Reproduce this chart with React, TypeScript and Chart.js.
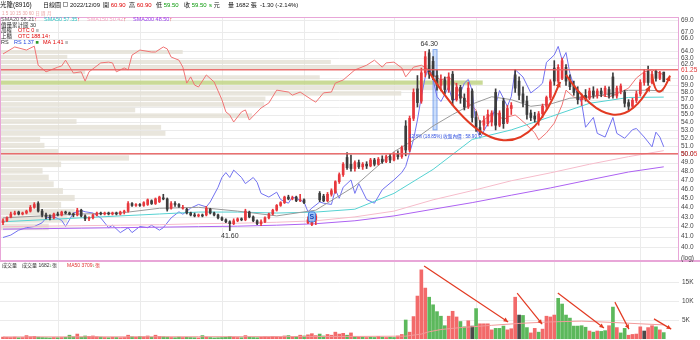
import React, { useEffect, useRef } from 'react';
import { Chart, registerables } from 'chart.js';
Chart.register(...registerables);

const FONT = '"Liberation Sans", "Noto Sans CJK TC", sans-serif';

// ---------- daily candles (index 0 .. 169) ----------
const opens = [
  42.4, 42.6, 43.0, 43.3, 43.5, 43.3, 43.4, 43.6, 44.0, 44.4,
  43.6, 43.2, 43.0, 42.9, 43.3, 43.2, 43.5, 43.4, 43.3, 43.2,
  43.7, 43.1, 42.8, 42.9, 43.2, 43.4, 43.3, 43.4, 43.3, 43.4,
  43.3, 43.5, 43.6, 44.4, 44.2, 44.3, 44.2, 44.3, 44.7, 44.4,
  44.6, 45.0, 44.9, 43.9, 44.4, 44.3, 43.9, 43.8, 43.4, 43.2,
  43.1, 43.2, 43.2, 43.8, 43.4, 43.2, 42.9, 42.7, 42.5, 42.3,
  42.6, 42.8, 42.7, 43.5, 43.0, 42.6, 42.3, 42.5, 42.9, 43.3,
  43.7, 44.2, 44.5, 45.1, 44.9, 45.1, 44.7, 44.8, 42.4, 42.2,
  42.7, 45.5, 45.2, 44.7, 45.4, 45.6, 46.8, 47.6, 49.6, 48.8,
  48.3, 49.0, 48.5, 48.8, 48.6, 49.3, 48.8, 49.4, 49.1, 49.7,
  49.3, 50.0, 49.7, 53.5, 50.5, 54.5, 58.5, 56.8, 60.8, 63.8,
  62.5, 60.4, 59.0, 59.8, 58.4, 60.6, 57.0, 58.7, 57.2, 56.0,
  58.2, 54.6, 53.3, 53.6, 53.8, 54.0, 58.0, 53.6, 56.8, 54.0,
  55.8, 60.5, 59.6, 57.8, 56.8, 55.2, 54.8, 54.2, 55.1, 56.1,
  57.3, 61.5, 59.6, 60.0, 61.6, 59.8, 59.0, 58.2, 57.0, 57.6,
  57.2, 58.2, 57.6, 58.2, 57.8, 58.4, 60.2, 57.5, 58.2, 58.0,
  56.6, 56.1, 56.9, 57.8, 59.4, 61.0, 59.4, 61.0, 60.0, 60.9,
];
const highs = [
  42.8, 43.0, 43.5, 43.6, 43.6, 43.5, 43.7, 44.2, 44.5, 44.6,
  43.8, 43.4, 43.2, 43.4, 43.5, 43.6, 43.6, 43.5, 43.4, 43.9,
  43.8, 43.2, 43.0, 43.3, 43.5, 43.5, 43.5, 43.5, 43.5, 43.5,
  43.6, 43.7, 44.6, 44.5, 44.4, 44.4, 44.6, 44.9, 44.8, 45.0,
  45.2, 45.4, 45.0, 44.6, 44.6, 44.4, 44.2, 43.9, 43.5, 43.4,
  43.3, 43.3, 44.1, 43.9, 43.5, 43.3, 43.0, 42.8, 42.6, 42.8,
  42.9, 42.9, 43.8, 43.6, 43.1, 42.7, 42.7, 43.0, 43.4, 43.8,
  44.3, 44.6, 45.2, 45.3, 45.2, 45.2, 45.4, 44.9, 43.0, 43.0,
  43.3, 45.7, 45.4, 45.6, 46.0, 46.9, 47.8, 49.0, 50.2, 49.9,
  49.2, 49.3, 49.0, 49.1, 49.5, 49.5, 49.6, 49.8, 49.9, 50.0,
  50.2, 50.4, 51.0, 54.2, 54.8, 58.5, 60.4, 61.5, 64.0, 64.3,
  63.2, 61.2, 60.5, 60.2, 60.8, 61.0, 59.3, 59.0, 57.8, 59.4,
  58.5, 55.4, 54.2, 54.8, 55.6, 55.5, 58.5, 55.5, 57.2, 56.2,
  56.6, 61.3, 60.2, 58.8, 57.5, 55.6, 55.3, 55.4, 56.4, 57.5,
  59.8, 62.6, 62.0, 63.0, 62.0, 60.5, 59.6, 58.8, 57.8, 58.4,
  58.6, 58.8, 58.5, 58.6, 58.9, 58.8, 60.8, 58.9, 59.2, 58.3,
  57.0, 57.2, 58.2, 59.8, 61.3, 61.8, 61.0, 61.2, 61.0, 60.9,
];
const lows = [
  42.2, 42.5, 42.9, 43.2, 43.2, 43.2, 43.3, 43.5, 43.9, 43.5,
  43.0, 42.8, 42.7, 42.8, 43.1, 43.1, 43.3, 43.2, 43.0, 43.1,
  43.0, 42.6, 42.6, 42.8, 43.1, 43.2, 43.2, 43.2, 43.2, 43.2,
  43.2, 43.3, 43.5, 44.1, 44.1, 44.1, 44.1, 44.2, 44.3, 44.3,
  44.5, 44.8, 43.6, 43.8, 44.1, 44.0, 43.8, 43.3, 43.1, 43.0,
  43.0, 43.0, 43.1, 43.3, 43.1, 42.8, 42.6, 42.4, 41.6, 42.2,
  42.5, 42.6, 42.6, 42.9, 42.5, 42.2, 42.1, 42.4, 42.8, 43.2,
  43.6, 44.1, 44.4, 44.8, 44.8, 44.6, 44.6, 44.4, 42.3, 42.1,
  42.2, 44.6, 44.6, 44.6, 45.2, 45.5, 46.6, 47.4, 48.2, 48.0,
  48.0, 48.3, 48.2, 48.3, 48.5, 48.6, 48.7, 48.9, 49.0, 49.0,
  49.2, 49.4, 49.5, 49.8, 50.3, 54.2, 56.0, 56.5, 60.2, 60.0,
  59.8, 58.3, 58.2, 57.8, 58.0, 56.2, 56.8, 56.5, 55.6, 55.8,
  54.0, 52.8, 52.4, 53.0, 53.5, 53.5, 53.0, 53.4, 53.2, 53.8,
  55.0, 58.0, 57.0, 56.0, 54.4, 54.2, 54.0, 53.6, 54.6, 55.6,
  57.0, 59.0, 59.3, 59.8, 59.0, 58.4, 57.6, 56.4, 56.2, 56.8,
  57.0, 57.2, 57.2, 57.4, 57.4, 57.2, 57.2, 57.2, 57.8, 56.0,
  55.6, 55.8, 56.6, 57.5, 59.0, 59.0, 59.2, 59.6, 59.8, 59.5,
];
const closes = [
  42.6, 42.9, 43.3, 43.4, 43.3, 43.4, 43.6, 44.0, 44.3, 43.6,
  43.2, 43.0, 42.9, 43.3, 43.2, 43.5, 43.4, 43.3, 43.2, 43.7,
  43.1, 42.8, 42.9, 43.2, 43.4, 43.3, 43.4, 43.3, 43.4, 43.3,
  43.5, 43.6, 44.4, 44.2, 44.3, 44.2, 44.5, 44.8, 44.4, 44.9,
  45.1, 44.9, 43.8, 44.4, 44.3, 44.1, 44.0, 43.4, 43.2, 43.1,
  43.2, 43.1, 43.9, 43.4, 43.2, 42.9, 42.7, 42.5, 42.3, 42.6,
  42.8, 42.7, 43.6, 43.0, 42.6, 42.3, 42.5, 42.9, 43.3, 43.7,
  44.2, 44.5, 45.1, 44.9, 45.0, 44.7, 44.8, 44.5, 42.7, 42.9,
  43.1, 44.8, 44.7, 45.4, 45.8, 46.8, 47.6, 48.8, 48.4, 48.3,
  49.0, 48.5, 48.8, 48.6, 49.3, 48.8, 49.4, 49.1, 49.7, 49.3,
  50.0, 49.7, 50.8, 50.5, 54.5, 58.0, 56.6, 60.8, 63.2, 60.6,
  60.2, 59.0, 59.8, 58.4, 60.2, 57.0, 58.7, 57.2, 56.0, 58.6,
  54.6, 53.3, 52.8, 54.2, 55.0, 55.2, 53.6, 55.2, 53.8, 55.8,
  56.2, 58.6, 57.6, 56.6, 55.0, 54.6, 54.4, 55.1, 56.1, 57.3,
  59.5, 59.6, 61.6, 62.6, 59.6, 58.8, 58.0, 57.0, 57.4, 57.2,
  58.2, 57.6, 58.2, 57.8, 58.6, 57.6, 57.5, 58.6, 58.9, 56.5,
  56.1, 56.9, 57.8, 59.4, 60.8, 59.4, 60.6, 60.0, 60.8, 59.5,
];

// ---------- volume (張) ----------
const volumes = [
  500, 450, 400, 500, 350, 400, 900, 600, 700, 500,
  400, 350, 300, 400, 350, 400, 450, 1000, 600, 1300,
  500, 800, 700, 800, 600, 500, 400, 350, 450, 400,
  350, 400, 1000, 600, 500, 700, 600, 800, 500, 1000,
  700, 600, 500, 400, 350, 500, 400, 450, 400, 350,
  300, 900, 500, 400, 300, 350, 400, 450, 700, 500,
  400, 350, 900, 500, 400, 350, 450, 600, 500, 700,
  600, 500, 800, 900, 600, 700, 1000, 800, 1100, 1400,
  900, 1300, 800, 1200, 1000, 1800, 1300, 1500, 1000,
  1600, 600, 500, 500, 400, 500, 400, 700, 500, 400,
  500, 400, 800, 1200, 5000, 1800, 5900, 11300, 18200, 13400,
  11000, 9000, 7200, 6000, 3500, 6000, 7300, 5800, 4600, 3200,
  4800, 3400, 8000, 4000, 4000, 4000, 2400, 2800, 2800, 3400,
  2400, 2700, 11000, 6300, 6200, 3000, 1600, 2800, 1800, 2600,
  6000, 5800, 6300, 10700, 9200, 6300, 5500, 3400, 3400, 3500,
  3100, 2100, 1800, 2100, 2000, 2200, 3500, 8400, 3000, 1600,
  2800, 1000, 1200, 1300, 3200, 2100, 3000, 3500, 3200, 2400,
  1682,
];
// r = up (red), g = down (green), k = flat (dark)
const volDir = [
  'rrrrgrrrrg', 'gggrgrgggr', 'ggrrrgrgrg', 'rrrgrgrrgr', 'rggrggrggg',
  'rgrggggggr', 'rgrgggrrrr', 'rrrgrgrgrr', 'rggrrrrrg',
  'rgrgrggrgr', 'ggrrgrrrrr', 'gggggrrrgg', 'rkgrrrrggg', 'rrrkggrrgr',
  'rrrggggggg', 'grgrggrgrg', 'grrrrkrrgr', 'g',
].join('');
const volMA50: [number, number][] = [
  [0, 550], [50, 600], [86, 650], [103, 750], [107, 1300], [109, 1900], [112, 2500],
  [117, 3000], [125, 3600], [132, 4100], [140, 4500], [148, 4700], [155, 4400], [163, 4000], [169, 3709],
];

// ---------- moving averages (index, price) ----------
const sma20: [number, number][] = [
  [0, 42.9], [10, 43.1], [20, 43.3], [30, 43.4], [40, 43.9], [50, 44.0], [60, 43.6], [70, 43.1],
  [80, 43.7], [90, 46.3], [100, 50.3], [105, 51.7], [110, 53.5], [115, 55.0], [120, 56.4],
  [125, 57.4], [130, 57.0], [135, 56.1], [140, 56.4], [145, 57.2], [150, 57.4], [155, 57.8],
  [160, 58.3], [165, 58.3], [169, 58.21],
];
const sma50: [number, number][] = [
  [0, 42.5], [10, 42.7], [20, 42.9], [30, 43.1], [40, 43.3], [50, 43.5], [60, 43.5], [70, 43.4],
  [80, 43.5], [90, 43.8], [100, 45.5], [110, 48.2], [120, 51.8], [130, 53.0], [140, 54.7],
  [150, 56.5], [160, 57.3], [169, 57.35],
];
const sma150: [number, number][] = [
  [0, 42.0], [10, 42.05], [20, 42.1], [30, 42.15], [40, 42.2], [50, 42.3], [60, 42.35], [70, 42.45],
  [80, 42.6], [90, 43.0], [100, 43.6], [110, 44.8], [120, 45.8], [130, 46.9], [140, 47.8],
  [150, 48.8], [160, 49.7], [169, 50.42],
];
const sma200: [number, number][] = [
  [0, 41.75], [10, 41.8], [20, 41.85], [30, 41.9], [40, 41.95], [50, 42.0], [60, 42.05], [70, 42.15],
  [80, 42.3], [90, 42.6], [100, 43.1], [110, 43.8], [120, 44.5], [130, 45.3], [140, 46.1],
  [150, 47.0], [160, 47.9], [169, 48.5],
];

// ---------- RS line (index, RS) ----------
const rsLine: [number, number][] = [
  [0, 0.63], [2, 0.65], [4, 0.69], [6, 0.71], [8, 0.72], [10, 0.75], [11, 0.79], [13, 0.80],
  [15, 0.77], [16, 0.72], [18, 0.83], [20, 0.85], [21, 0.84], [23, 0.83], [25, 0.79], [27, 0.71],
  [28, 0.73], [30, 0.67], [32, 0.71], [33, 0.67], [35, 0.72], [37, 0.71], [38, 0.73], [40, 0.69],
  [41, 0.71], [43, 0.79], [45, 0.84], [46, 0.82], [48, 0.87], [50, 0.90], [52, 0.88], [53, 0.92],
  [55, 1.04], [56, 1.12], [57, 1.16], [58, 1.12], [59, 1.18], [61, 1.12], [62, 1.07], [64, 1.12],
  [65, 1.08], [66, 0.99], [68, 0.96], [70, 1.00], [71, 0.94], [73, 0.91], [74, 0.96], [75, 0.95],
  [77, 0.92], [78, 0.84], [79, 0.87], [81, 0.92], [82, 0.91], [84, 0.90], [85, 1.02], [86, 0.95],
  [87, 1.04], [89, 1.10], [90, 0.99], [91, 1.07], [93, 0.94], [95, 0.91], [97, 1.02], [100, 1.10],
  [102, 1.16], [103, 1.21], [104, 1.32], [105, 1.43], [106, 1.59], [107, 1.78], [108, 1.94],
  [109, 2.02], [110, 1.92], [111, 1.78], [112, 1.74], [114, 1.86], [115, 1.74], [117, 1.81],
  [118, 1.89], [119, 1.92], [120, 1.83], [121, 1.53], [122, 1.44], [124, 1.56], [125, 1.59],
  [127, 1.83], [129, 1.70], [130, 1.78], [131, 2.00], [133, 1.94], [135, 1.81], [137, 1.86],
  [138, 1.89], [139, 2.06], [141, 2.12], [142, 2.19], [143, 2.08], [144, 2.14], [145, 1.97],
  [146, 1.87], [148, 1.73], [149, 1.53], [151, 1.61], [152, 1.48], [154, 1.45], [156, 1.61],
  [157, 1.48], [159, 1.44], [161, 1.51], [162, 1.52], [164, 1.45], [166, 1.37], [167, 1.49],
  [168, 1.45], [169, 1.37],
];

// ---------- OTC index line (index, value) ----------
const otcLine: [number, number][] = [
  [0, 193.5], [3, 195.3], [6, 194.5], [8, 195.5], [9, 190.6], [11, 188.9], [14, 190.1], [15, 190.4],
  [16, 191.9], [18, 188.6], [20, 188.9], [21, 186.5], [22, 188.9], [25, 191.2], [27, 191.4],
  [28, 191.2], [29, 188.9], [31, 189.9], [32, 189.4], [33, 193.2], [35, 194.5], [38, 194.0],
  [39, 194.0], [41, 195.3], [42, 194.8], [43, 192.7], [45, 191.9], [46, 190.1], [47, 186.0],
  [48, 187.6], [49, 185.5], [50, 185.0], [52, 188.1], [54, 186.3], [56, 181.7], [57, 178.6],
  [58, 177.8], [59, 176.0], [61, 178.6], [62, 179.1], [63, 176.5], [66, 179.6], [68, 180.9],
  [70, 184.2], [73, 183.7], [74, 182.9], [76, 183.7], [79, 181.7], [80, 181.1], [82, 183.5],
  [84, 183.7], [85, 186.0], [87, 186.8], [90, 189.4], [93, 190.6], [95, 191.9], [97, 190.1],
  [98, 191.2], [100, 191.4], [102, 189.9], [103, 187.6], [105, 190.1], [107, 190.6], [109, 189.4],
  [110, 188.1], [112, 186.8], [114, 187.6], [116, 185.5], [117, 182.9], [119, 180.9], [121, 179.1],
  [122, 175.7], [124, 177.3], [126, 178.6], [128, 176.5], [129, 177.3], [131, 177.8], [132, 177.0],
  [134, 175.2], [136, 173.2], [137, 171.4], [139, 173.2], [141, 175.7], [143, 180.4], [144, 184.2],
  [146, 182.4], [148, 181.7], [150, 182.4], [153, 182.9], [155, 182.4], [158, 183.7], [160, 184.7],
  [162, 187.3], [164, 188.9], [166, 189.4], [168, 188.6], [169, 188.14],
];

// ---------- volume-by-price (30 buckets, bottom to top) ----------
const vpRange = [41.6, 64.3];
const vpVolumes = [
  29, 59, 71, 49, 71, 52, 37, 29, 19, 49,
  159, 44, 22, 15, 218, 211, 74, 358, 169, 378,
  380, 600, 652, 732, 468, 88, 652, 486, 59, 246,
];

// ---------- axes / annotations ----------
const priceTicks = [40, 41, 42, 43, 44, 45, 46, 47, 48, 49, 50, 51, 52, 53, 54, 55, 56, 57, 58, 59, 60, 62, 63, 64, 66, 67, 69];
const monthStarts = [14, 35, 56, 77, 100, 121, 141, 163];
const volTicks = [5000, 10000, 15000];
const levelLines: [number, string][] = [[61.25, '61.25'], [50.05, '50.05']];
const cupArcs: [number, number][][] = [
  [[109, 60.9], [128, 51.7], [142.5, 59.5]],
  [[144, 60.5], [155.8, 55.0], [165.5, 58.9]],
  [[166, 60.5], [167.8, 58.1], [170.6, 60.4]],
];
const volArrows: number[][] = [
  [107.7, 19200, 129.2, 4500],
  [131.5, 12100, 137.9, 3900],
  [141.9, 12100, 153.7, 2900],
  [156.5, 9700, 160.1, 2600],
  [166.5, 5300, 170.9, 2600],
];
const peakMark = { index: 110.5, from: 64.3, to: 53.0, text: '12.8% (18.85%) 收盤內價 : 58.90' };
const highLabel = { index: 109, value: 64.3, text: '64.30' };
const lowLabel = { index: 58, value: 41.6, text: '41.60' };
const signalMark = { index: 79, value: 43.0, text: 'S' };

const X_MIN = -0.77;
const X_MAX = 172.9;

const UP = '#e8383d';
const DOWN = '#3c3c3c';
const VOL_COL: Record<string, string> = { r: '#f26a6a', g: '#5cb85c', k: '#4a4a4a' };

function seg(ctx: any, x: number, y: number, parts: [string, string][], size: number) {
  ctx.font = `${size}px ${FONT}`;
  ctx.textBaseline = 'middle';
  ctx.textAlign = 'left';
  for (const [t, c] of parts) {
    ctx.fillStyle = c;
    ctx.fillText(t, x, y);
    x += ctx.measureText(t).width;
  }
}

function arrowHead(ctx: any, fx: number, fy: number, tx: number, ty: number, size: number) {
  const a = Math.atan2(ty - fy, tx - fx);
  ctx.beginPath();
  ctx.moveTo(tx, ty);
  ctx.lineTo(tx - size * Math.cos(a - 0.45), ty - size * Math.sin(a - 0.45));
  ctx.lineTo(tx - size * Math.cos(a + 0.45), ty - size * Math.sin(a + 0.45));
  ctx.closePath();
  ctx.fill();
}

function hline(ctx: any, x0: number, x1: number, y: number) {
  ctx.beginPath();
  ctx.moveTo(x0, y);
  ctx.lineTo(x1, y);
  ctx.stroke();
}
function vline(ctx: any, x: number, y0: number, y1: number) {
  ctx.beginPath();
  ctx.moveTo(x, y0);
  ctx.lineTo(x, y1);
  ctx.stroke();
}

const toXY = (arr: [number, number][]) => arr.map(([x, y]) => ({ x, y }));

const mainDeco = {
  id: 'mainDeco',
  beforeDatasetsDraw(chart: any) {
    const { ctx, chartArea: a, scales } = chart;
    const xs = scales.x, ys = scales.y, xvp = scales.xvp;
    ctx.save();
    ctx.strokeStyle = '#ebebeb';
    ctx.lineWidth = 1;
    priceTicks.forEach((v) => hline(ctx, a.left, a.right, Math.round(ys.getPixelForValue(v)) + 0.5));
    monthStarts.forEach((v) => vline(ctx, Math.round(xs.getPixelForValue(v)) + 0.5, a.top, a.bottom));
    // volume by price
    const [lo, hi] = vpRange;
    const step = (hi - lo) / vpVolumes.length;
    const last = closes[closes.length - 1];
    vpVolumes.forEach((v, i) => {
      const p0 = lo + i * step;
      const p1 = p0 + step;
      const yTop = ys.getPixelForValue(p1);
      const yBot = ys.getPixelForValue(p0);
      const w = xvp.getPixelForValue(v) - a.left;
      ctx.fillStyle = last >= p0 && last < p1 ? 'rgba(196,214,140,0.9)' : 'rgba(228,224,213,0.8)';
      ctx.fillRect(a.left, yTop + 0.5, w, yBot - yTop - 1);
    });
    // peak highlight bar
    const px = xs.getPixelForValue(peakMark.index);
    const yA = ys.getPixelForValue(peakMark.from);
    const yB = ys.getPixelForValue(peakMark.to);
    ctx.fillStyle = 'rgba(140,180,245,0.45)';
    ctx.fillRect(px - 2, yA, 4, yB - yA);
    ctx.strokeStyle = 'rgba(90,140,230,0.7)';
    ctx.strokeRect(px - 2, yA, 4, yB - yA);
    ctx.restore();
  },
  afterDatasetsDraw(chart: any) {
    const { ctx, chartArea: a, scales } = chart;
    const xs = scales.x, ys = scales.y;
    ctx.save();
    // level lines
    ctx.strokeStyle = 'rgba(232,96,96,0.9)';
    ctx.lineWidth = 1.5;
    levelLines.forEach(([v]) => hline(ctx, a.left, a.right, ys.getPixelForValue(v)));
    // cup arcs
    ctx.strokeStyle = '#e23a22';
    ctx.fillStyle = '#e23a22';
    ctx.lineWidth = 2;
    cupArcs.forEach((pts) => {
      const [s, m, e] = pts.map(([i, p]) => [xs.getPixelForValue(i), ys.getPixelForValue(p)]);
      const cx = 2 * m[0] - (s[0] + e[0]) / 2;
      const cy = 2 * m[1] - (s[1] + e[1]) / 2;
      ctx.beginPath();
      ctx.moveTo(s[0], s[1]);
      ctx.quadraticCurveTo(cx, cy, e[0], e[1]);
      ctx.stroke();
      arrowHead(ctx, cx, cy, e[0], e[1], 6);
    });
    // high / low labels
    ctx.font = `7px ${FONT}`;
    ctx.fillStyle = '#333';
    ctx.textAlign = 'center';
    ctx.textBaseline = 'middle';
    ctx.fillText(highLabel.text, xs.getPixelForValue(highLabel.index), ys.getPixelForValue(highLabel.value) - 5);
    ctx.fillText(lowLabel.text, xs.getPixelForValue(lowLabel.index), ys.getPixelForValue(lowLabel.value) + 5);
    // S marker
    const sx = xs.getPixelForValue(signalMark.index);
    const sy = ys.getPixelForValue(signalMark.value);
    ctx.fillStyle = 'rgba(150,195,250,0.9)';
    ctx.strokeStyle = '#3b7be0';
    ctx.lineWidth = 1;
    ctx.beginPath();
    ctx.roundRect(sx - 3.5, sy - 5, 7, 10, 2);
    ctx.fill();
    ctx.stroke();
    ctx.fillStyle = '#1d48b8';
    ctx.font = `bold 7px ${FONT}`;
    ctx.fillText(signalMark.text, sx, sy + 0.5);
    // peak annotation text
    ctx.textAlign = 'left';
    ctx.font = `4.6px ${FONT}`;
    ctx.fillStyle = '#3050e0';
    ctx.fillText(peakMark.text, xs.getPixelForValue(peakMark.index) - 26, ys.getPixelForValue(peakMark.to) + 7);
    ctx.restore();
  },
  afterDraw(chart: any) {
    const { ctx, chartArea: a, scales } = chart;
    const ys = scales.y;
    ctx.save();
    // border
    ctx.strokeStyle = '#e8a6d8';
    ctx.lineWidth = 1;
    ctx.strokeRect(a.left + 0.5, a.top + 0.5, a.right - a.left - 1, a.bottom - a.top - 1);
    ctx.lineWidth = 2;
    hline(ctx, a.left, a.right + 21, a.bottom - 1);
    // price axis labels
    ctx.font = `6.5px ${FONT}`;
    ctx.textAlign = 'left';
    ctx.textBaseline = 'middle';
    ctx.fillStyle = '#444';
    priceTicks.forEach((v) => ctx.fillText(v.toFixed(1), a.right + 2, ys.getPixelForValue(v)));
    ctx.fillText('(log)', a.right + 2, a.bottom - 4);
    ctx.fillStyle = '#e03a3a';
    levelLines.forEach(([v, t]) => ctx.fillText(t, a.right + 2, ys.getPixelForValue(v)));
    // header
    const R = '#e00000', G = '#0a9a0a', K = '#111';
    const h = 6, hy = 5;
    seg(ctx, 0, hy, [['光隆(8916)', K]], 6.5);
    seg(ctx, 43, hy, [['日線圖', K]], h);
    ctx.strokeStyle = '#888';
    ctx.lineWidth = 0.8;
    ctx.strokeRect(63.5, 2.5, 4, 4);
    seg(ctx, 70, hy, [['2022/12/09', K]], h);
    seg(ctx, 103, hy, [['開 ', K], ['60.90', R]], h);
    seg(ctx, 129, hy, [['高 ', K], ['60.90', R]], h);
    seg(ctx, 156, hy, [['低 ', K], ['59.50', G]], h);
    seg(ctx, 184, hy, [['收 ', K], ['59.50', G]], h);
    seg(ctx, 209, hy, [['s', G], [' 元', K]], h);
    seg(ctx, 228, hy, [['量 1682 張', K]], h);
    seg(ctx, 260, hy, [['-1.30 (-2.14%)', K]], h);
    seg(ctx, 2, 13.5, [['1 5 10 15 30 60 日 周 月', '#eaa4a4']], 4.6);
    // legends
    const L = 5.5;
    seg(ctx, 1, 19, [['SMA20 58.21', '#555'], ['↑', R]], L);
    seg(ctx, 44, 19, [['SMA50 57.35', '#2cc4c4'], ['↑', R]], L);
    seg(ctx, 87, 19, [['SMA150 50.42', '#f2a8c0'], ['↑', R]], L);
    seg(ctx, 133, 19, [['SMA200 48.50', '#9a40ee'], ['↑', R]], L);
    seg(ctx, 1, 25, [['價量累計圖 30', '#333']], L);
    seg(ctx, 1, 30.5, [['加權', '#333']], L);
    seg(ctx, 18, 30.5, [['OTC 0 ', R], ['≡', '#888']], L);
    seg(ctx, 1, 36, [['上櫃', '#333']], L);
    seg(ctx, 18, 36, [['OTC 188.14', R], ['↑', R]], L);
    seg(ctx, 1, 42, [['RS', '#333']], L);
    seg(ctx, 14, 42, [['RS 1.37 ', '#2244dd'], ['■', '#2a9a2a']], L);
    seg(ctx, 43, 42, [['MA 1.41 ', R], ['≡', '#888']], L);
    ctx.restore();
  },
};

const volDeco = {
  id: 'volDeco',
  beforeDatasetsDraw(chart: any) {
    const { ctx, chartArea: a, scales } = chart;
    ctx.save();
    ctx.strokeStyle = '#ebebeb';
    ctx.lineWidth = 1;
    volTicks.forEach((v) => hline(ctx, a.left, a.right, Math.round(scales.y.getPixelForValue(v)) + 0.5));
    monthStarts.forEach((v) => vline(ctx, Math.round(scales.x.getPixelForValue(v)) + 0.5, a.top - 1, a.bottom + 1));
    ctx.restore();
  },
  afterDatasetsDraw(chart: any) {
    const { ctx, scales } = chart;
    ctx.save();
    ctx.strokeStyle = '#e23a22';
    ctx.fillStyle = '#e23a22';
    ctx.lineWidth = 1.2;
    volArrows.forEach(([i0, v0, i1, v1]) => {
      const x0 = scales.x.getPixelForValue(i0), y0 = scales.y.getPixelForValue(v0);
      const x1 = scales.x.getPixelForValue(i1), y1 = scales.y.getPixelForValue(v1);
      ctx.beginPath();
      ctx.moveTo(x0, y0);
      ctx.lineTo(x1, y1);
      ctx.stroke();
      arrowHead(ctx, x0, y0, x1, y1, 5);
    });
    ctx.restore();
  },
  afterDraw(chart: any) {
    const { ctx, chartArea: a, scales } = chart;
    ctx.save();
    ctx.font = `6.5px ${FONT}`;
    ctx.fillStyle = '#444';
    ctx.textAlign = 'left';
    ctx.textBaseline = 'middle';
    volTicks.forEach((v) => ctx.fillText(`${v / 1000}K`, a.right + 3, scales.y.getPixelForValue(v)));
    const R = '#e03030', G = '#1a9a1a', K = '#333';
    seg(ctx, 2, 4, [['成交量', K]], 5);
    seg(ctx, 22, 4, [['成交量 1682', K], ['↓', G], ['張', K]], 5);
    seg(ctx, 67, 4, [['MA50 3709', R], ['↓', G], ['張', R]], 5);
    ctx.restore();
  },
};

export default function App() {
  const mainRef = useRef<HTMLCanvasElement>(null);
  const volRef = useRef<HTMLCanvasElement>(null);

  useEffect(() => {
    document.body.style.margin = '0';
    document.body.style.background = '#fff';
    const idx = closes.map((_, i) => i);
    const candleColors = idx.map((i) => (closes[i] >= opens[i] ? UP : DOWN));

    const lineDs = (data: [number, number][], color: string, axis: string, order: number) => ({
      type: 'line',
      data: toXY(data),
      borderColor: color,
      backgroundColor: color,
      borderWidth: 1,
      pointRadius: 0,
      tension: 0,
      xAxisID: 'x',
      yAxisID: axis,
      order,
    });

    const main = new Chart(mainRef.current as HTMLCanvasElement, {
      type: 'bar',
      data: {
        datasets: [
          {
            type: 'bar',
            data: idx.map((i) => ({ x: i, y: [opens[i], closes[i]] })),
            backgroundColor: candleColors,
            barThickness: 2,
            minBarLength: 1,
            grouped: false,
            xAxisID: 'x',
            yAxisID: 'y',
            order: 0,
          },
          {
            type: 'bar',
            data: idx.map((i) => ({ x: i, y: [lows[i], highs[i]] })),
            backgroundColor: candleColors,
            barThickness: 1,
            grouped: false,
            xAxisID: 'x',
            yAxisID: 'y',
            order: 0,
          },
          lineDs(sma20, '#9a9a9a', 'y', 1),
          lineDs(sma50, '#55d2d2', 'y', 1),
          lineDs(sma150, '#f6bccb', 'y', 1),
          lineDs(sma200, '#ad62f2', 'y', 1),
          lineDs(rsLine, '#7272f0', 'yRS', 2),
          lineDs(otcLine, '#f07474', 'yOTC', 2),
        ] as any,
      },
      options: {
        animation: false,
        responsive: false,
        devicePixelRatio: 1,
        events: [],
        layout: { padding: { top: 17, right: 21, left: 0, bottom: 0 } },
        plugins: { legend: { display: false }, tooltip: { enabled: false } },
        scales: {
          x: { type: 'linear', display: false, min: X_MIN, max: X_MAX, offset: false },
          xvp: { type: 'linear', axis: 'x', display: false, min: 0, max: 1000 },
          y: { type: 'logarithmic', display: false, min: 38.58, max: 69.53 },
          yRS: { type: 'linear', display: false, min: 0.43, max: 2.43 },
          yOTC: { type: 'linear', display: false, min: 140, max: 203 },
        },
      } as any,
      plugins: [mainDeco],
    });

    const vol = new Chart(volRef.current as HTMLCanvasElement, {
      type: 'bar',
      data: {
        datasets: [
          {
            type: 'line',
            data: toXY(volMA50),
            borderColor: '#f29a9a',
            borderWidth: 1,
            pointRadius: 0,
            tension: 0,
            order: 0,
          },
          {
            type: 'bar',
            data: idx.map((i) => ({ x: i, y: volumes[i] })),
            backgroundColor: idx.map((i) => VOL_COL[volDir[i]]),
            barThickness: 3,
            order: 1,
          },
        ] as any,
      },
      options: {
        animation: false,
        responsive: false,
        devicePixelRatio: 1,
        events: [],
        layout: { padding: { top: 1, right: 21, left: 0, bottom: 1 } },
        plugins: { legend: { display: false }, tooltip: { enabled: false } },
        scales: {
          x: { type: 'linear', display: false, min: X_MIN, max: X_MAX, offset: false },
          y: { type: 'linear', display: false, min: 0, max: 20000 },
        },
      } as any,
      plugins: [volDeco],
    });

    return () => {
      main.destroy();
      vol.destroy();
    };
  }, []);

  return (
    <div style={{ width: 700, height: 340, position: 'relative', background: '#fff', overflow: 'hidden' }}>
      <canvas ref={mainRef} width={700} height={262} style={{ display: 'block', width: 700, height: 262 }} />
      <canvas ref={volRef} width={700} height={78} style={{ display: 'block', width: 700, height: 78 }} />
    </div>
  );
}
